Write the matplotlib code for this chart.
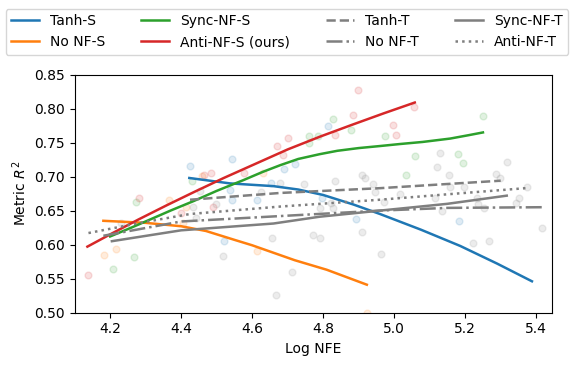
import numpy as np
import matplotlib
matplotlib.use("Agg")
import matplotlib.pyplot as plt

# fitted curves (x = log NFE, y = metric R^2)
tanh_s_x = [4.423, 4.538, 4.66, 4.73, 4.80, 4.885, 4.96, 5.075, 5.186, 5.29, 5.388]
tanh_s_y = [0.698, 0.690, 0.686, 0.681, 0.673, 0.659, 0.645, 0.622, 0.598, 0.572, 0.546]

nonf_s_x = [4.181, 4.30, 4.40, 4.47, 4.55, 4.60, 4.72, 4.81, 4.923]
nonf_s_y = [0.635, 0.632, 0.627, 0.620, 0.607, 0.599, 0.577, 0.563, 0.541]

sync_s_x = [4.2, 4.26, 4.313, 4.37, 4.435, 4.50, 4.576, 4.63, 4.68, 4.73, 4.79, 4.84, 4.90,
            4.96, 5.017, 5.08, 5.158, 5.21, 5.25]
sync_s_y = [0.612, 0.625, 0.637, 0.650, 0.664, 0.679, 0.695, 0.707, 0.717, 0.726, 0.733,
            0.738, 0.742, 0.745, 0.748, 0.751, 0.756, 0.761, 0.765]

anti_s_x = [4.136, 4.2, 4.28, 4.36, 4.435, 4.52, 4.61, 4.70, 4.792, 4.88, 4.97, 5.058]
anti_s_y = [0.597, 0.615, 0.637, 0.658, 0.677, 0.698, 0.719, 0.740, 0.759, 0.776, 0.793, 0.809]

tanh_t_x = [4.425, 4.68, 4.96, 5.30]
tanh_t_y = [0.666, 0.676, 0.683, 0.694]

nonf_t_x = [4.181, 4.40, 4.68, 4.96, 5.15, 5.42]
nonf_t_y = [0.613, 0.634, 0.642, 0.650, 0.654, 0.655]

sync_t_x = [4.205, 4.40, 4.66, 4.79, 4.96, 5.15, 5.317]
sync_t_y = [0.605, 0.621, 0.631, 0.641, 0.650, 0.660, 0.672]

anti_t_x = [4.139, 4.285, 4.425, 4.68, 4.96, 5.15, 5.37]
anti_t_y = [0.617, 0.632, 0.645, 0.656, 0.666, 0.674, 0.683]

# raw runs (faint dots)
blue_px = [4.426, 4.544, 4.539, 4.654, 4.690, 4.721, 4.813, 4.543, 4.613, 4.522, 4.798, 4.893, 5.183]
blue_py = [0.715, 0.726, 0.681, 0.691, 0.711, 0.719, 0.775, 0.666, 0.666, 0.606, 0.669, 0.637, 0.635]

orange_px = [4.458, 4.630, 4.367, 4.414, 4.405, 4.614, 4.183, 4.216, 4.923]
orange_py = [0.701, 0.706, 0.666, 0.655, 0.632, 0.590, 0.585, 0.593, 0.500]

green_px = [4.430, 4.761, 4.761, 4.827, 4.785, 4.877, 4.975, 5.249, 5.058, 5.179, 5.195, 5.034,
            4.274, 4.268, 4.208]
green_py = [0.693, 0.760, 0.749, 0.785, 0.760, 0.769, 0.760, 0.789, 0.731, 0.733, 0.720, 0.702,
            0.663, 0.582, 0.564]

red_px = [4.464, 4.484, 4.578, 4.671, 4.700, 4.688, 4.897, 5.056, 4.883, 4.834, 4.998, 5.004,
          4.281, 4.490, 4.400, 4.139]
red_py = [0.703, 0.706, 0.706, 0.745, 0.757, 0.732, 0.828, 0.802, 0.790, 0.761, 0.776, 0.761,
          0.669, 0.655, 0.647, 0.555]

gray_px = [4.454, 4.678, 4.745, 4.625, 5.128, 5.318, 5.120, 5.153, 4.910, 4.917, 4.832, 4.940,
           5.287, 5.299, 5.156, 5.196, 5.374, 4.946, 5.017, 4.434, 4.499, 4.442, 4.231, 4.655,
           4.517, 4.713, 4.666, 4.771, 4.792, 4.829, 4.823, 4.970, 4.792, 4.909, 4.963, 5.114,
           5.134, 5.234, 5.236, 5.252, 5.223, 5.266, 5.344, 5.352, 5.416]
gray_py = [0.679, 0.691, 0.689, 0.677, 0.735, 0.721, 0.714, 0.703, 0.703, 0.698, 0.694, 0.689,
           0.704, 0.698, 0.684, 0.685, 0.684, 0.677, 0.675, 0.655, 0.659, 0.639, 0.632, 0.610,
           0.583, 0.559, 0.526, 0.614, 0.654, 0.654, 0.661, 0.663, 0.609, 0.618, 0.586, 0.669,
           0.650, 0.668, 0.659, 0.654, 0.603, 0.606, 0.661, 0.668, 0.625]

fig = plt.figure(figsize=(5.74, 3.66), dpi=100)
ax = fig.add_axes([0.130, 0.146, 0.832, 0.650])

dot = dict(s=24, alpha=0.14, zorder=1)
ax.scatter(blue_px, blue_py, color="tab:blue", **dot)
ax.scatter(orange_px, orange_py, color="tab:orange", **dot)
ax.scatter(green_px, green_py, color="tab:green", **dot)
ax.scatter(red_px, red_py, color="tab:red", **dot)
ax.scatter(gray_px, gray_py, color="tab:gray", **dot)

ax.plot(tanh_s_x, tanh_s_y, color="tab:blue", lw=1.8, label="Tanh-S")
ax.plot(nonf_s_x, nonf_s_y, color="tab:orange", lw=1.8, label="No NF-S")
ax.plot(sync_s_x, sync_s_y, color="tab:green", lw=1.8, label="Sync-NF-S")
ax.plot(anti_s_x, anti_s_y, color="tab:red", lw=1.8, label="Anti-NF-S (ours)")
ax.plot(tanh_t_x, tanh_t_y, color="tab:gray", lw=1.8, ls="--", label="Tanh-T")
ax.plot(nonf_t_x, nonf_t_y, color="tab:gray", lw=1.8, ls="-.", label="No NF-T")
ax.plot(sync_t_x, sync_t_y, color="tab:gray", lw=1.8, ls="-", label="Sync-NF-T")
ax.plot(anti_t_x, anti_t_y, color="tab:gray", lw=1.8, ls=":", label="Anti-NF-T")

ax.set_xlim(4.10, 5.445)
ax.set_ylim(0.50, 0.85)
ax.set_xlabel("Log NFE")
ax.set_ylabel("Metric $R^2$")

handles, labels = ax.get_legend_handles_labels()
fig.legend(handles, labels, loc="upper center", ncol=4, bbox_to_anchor=(0.5, 0.995),
           columnspacing=2.6, handlelength=2.0)

fig.savefig("out.png", dpi=100)
